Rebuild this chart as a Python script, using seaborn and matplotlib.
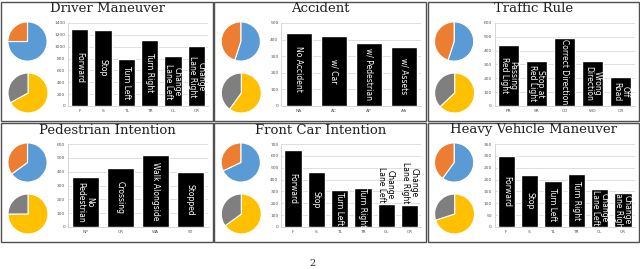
import numpy as np
import pandas as pd
import seaborn as sns
import matplotlib.pyplot as plt
from matplotlib.patches import Rectangle

sns.set_style("white")
plt.rcParams['font.family'] = ['DejaVu Sans']

# ---- data ----
driver_labels = ["Forward", "Stop", "Turn Left", "Turn Right", "Change\nLane Left", "Change\nLane Right"]
driver_ticks = ["F", "S", "TL", "TR", "CL", "CR"]
driver_counts = [1300, 1280, 795, 1115, 835, 1005]
driver_yticks = [0, 200, 400, 600, 800, 1000, 1200, 1400]
driver_pie_top = [75, 25]
driver_pie_bottom = [67, 33]

accident_labels = ["No Accident", "w/ Car", "w/ Pedestrian", "w/ Assets"]
accident_ticks = ["NA", "AC", "AP", "AA"]
accident_counts = [442, 422, 380, 354]
accident_yticks = [0, 100, 200, 300, 400, 500]
accident_pie_top = [55, 45]
accident_pie_bottom = [60, 40]

traffic_labels = ["Passing\nRed Light", "Stop at\nRed Light", "Correct Direction", "Wrong\nDirection", "Off\nRoad"]
traffic_ticks = ["PR", "SR", "CD", "WD", "OR"]
traffic_counts = [440, 327, 490, 322, 212]
traffic_yticks = [0, 100, 200, 300, 400, 500, 600]
traffic_pie_top = [55, 45]
traffic_pie_bottom = [63, 37]

ped_labels = ["No\nPedestrian", "Crossing", "Walk Alongside", "Stopped"]
ped_ticks = ["NP", "CR", "WA", "ST"]
ped_counts = [361, 424, 518, 398]
ped_yticks = [0, 100, 200, 300, 400, 500, 600]
ped_pie_top = [65, 35]
ped_pie_bottom = [75, 25]

front_labels = ["Forward", "Stop", "Turn Left", "Turn Right", "Change\nLane Left", "Change\nLane Right"]
front_ticks = ["F", "S", "TL", "TR", "CL", "CR"]
front_counts = [650, 465, 308, 325, 193, 182]
front_yticks = [0, 100, 200, 300, 400, 500, 600, 700]
front_pie_top = [68, 32]
front_pie_bottom = [65, 35]

heavy_labels = ["Forward", "Stop", "Turn Left", "Turn Right", "Change\nLane Left", "Change\nLane Right"]
heavy_ticks = ["F", "S", "TL", "TR", "CL", "CR"]
heavy_counts = [301, 219, 192, 225, 161, 144]
heavy_yticks = [0, 50, 100, 150, 200, 250, 300, 350]
heavy_pie_top = [60, 40]
heavy_pie_bottom = [70, 30]

panels = [
    ("Driver Maneuver", driver_labels, driver_ticks, driver_counts, driver_yticks, driver_pie_top, driver_pie_bottom),
    ("Accident", accident_labels, accident_ticks, accident_counts, accident_yticks, accident_pie_top, accident_pie_bottom),
    ("Traffic Rule", traffic_labels, traffic_ticks, traffic_counts, traffic_yticks, traffic_pie_top, traffic_pie_bottom),
    ("Pedestrian Intention", ped_labels, ped_ticks, ped_counts, ped_yticks, ped_pie_top, ped_pie_bottom),
    ("Front Car Intention", front_labels, front_ticks, front_counts, front_yticks, front_pie_top, front_pie_bottom),
    ("Heavy Vehicle Maneuver", heavy_labels, heavy_ticks, heavy_counts, heavy_yticks, heavy_pie_top, heavy_pie_bottom),
]

W, H = 640, 269
fig = plt.figure(figsize=(6.4, 2.69), dpi=100)


def box(x, y, w, h):
    return [x / W, 1 - (y + h) / H, w / W, h / H]


for i, (title, labels, ticks, counts, yticks, ptop, pbot) in enumerate(panels):
    c, r = i % 3, i // 3
    x0 = c * 213.3
    y0 = 1 + r * 121

    fig.add_artist(Rectangle(((x0 + 1) / W, 1 - (y0 + 120) / H), 211.5 / W, 119 / H,
                             transform=fig.transFigure, fill=False,
                             edgecolor='#505050', lw=1.0))
    fig.text((x0 + 107) / W, 1 - (y0 + 8) / H, title, ha='center', va='center',
             family='DejaVu Serif', fontsize=9.5, color='#222222')

    ax1 = fig.add_axes(box(x0 + 3, y0 + 16, 49, 49))
    ax1.pie(ptop, colors=['#5B9BD5', '#ED7D31'], startangle=90, counterclock=False,
            wedgeprops=dict(edgecolor='white', linewidth=0.8))
    ax1.set_aspect('equal')
    ax2 = fig.add_axes(box(x0 + 3, y0 + 67, 50, 50))
    ax2.pie(pbot, colors=['#FFC000', '#7F7F7F'], startangle=90, counterclock=False,
            wedgeprops=dict(edgecolor='white', linewidth=0.8))
    ax2.set_aspect('equal')

    ax = fig.add_axes(box(x0 + 68, y0 + 22, 140, 83))
    df = pd.DataFrame({"cat": ticks, "n": counts})
    sns.barplot(data=df, x="cat", y="n", color='black', saturation=1, width=0.75, ax=ax)
    ax.set_ylim(0, yticks[-1])
    ax.set_yticks(yticks)
    ax.set_xlabel('')
    ax.set_ylabel('')
    ax.yaxis.grid(True, color='#d9d9d9', lw=0.6)
    ax.set_axisbelow(True)
    for s in ['top', 'right']:
        ax.spines[s].set_visible(False)
    for s in ['left', 'bottom']:
        ax.spines[s].set_color('#d0d0d0')
        ax.spines[s].set_linewidth(0.6)
    ax.tick_params(axis='both', labelsize=3.2, colors='#555555', length=0, pad=2)

    top = max(counts)
    for j, (lab, v) in enumerate(zip(labels, counts)):
        if v < 0.35 * top:
            ax.text(j, v + yticks[-1] * 0.02, lab, rotation=270, ha='center', va='bottom',
                    color='black', fontsize=5.5, linespacing=0.95)
        else:
            ax.text(j, v / 2, lab, rotation=270, ha='center', va='center',
                    color='white', fontsize=5.5, linespacing=0.95)

# page number at the bottom
fig.text(313 / W, 1 - 268.5 / H, "2", ha='center', va='bottom', fontsize=7, family='DejaVu Serif')

fig.savefig("out.png", dpi=100)
